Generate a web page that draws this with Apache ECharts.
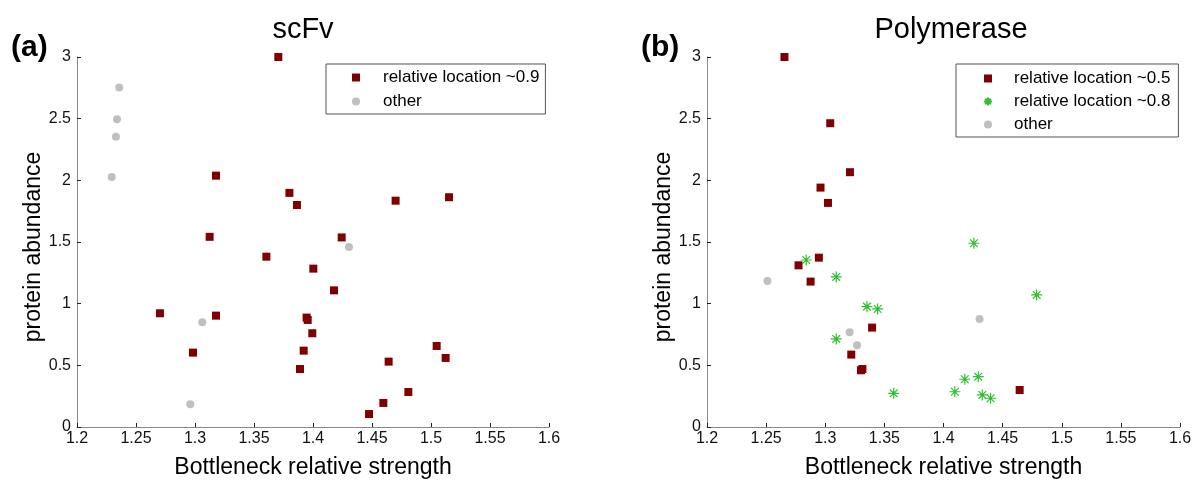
<!DOCTYPE html>
<html>
<head>
<meta charset="utf-8">
<script src="https://cdn.jsdelivr.net/npm/echarts@6/dist/echarts.min.js"></script>
<style>
html,body{margin:0;padding:0;background:#fff;}
#chart{width:1200px;height:485px;}
</style>
</head>
<body>
<div id="chart"></div>
<script>
// ---- data ----
const panelTitles = ['scFv', 'Polymerase'];
const panelLabels = ['(a)', '(b)'];
const xAxisName = 'Bottleneck relative strength';
const yAxisName = 'protein abundance';

// scFv panel
const scfvLoc09 = [
  [1.3706, 3.00], [1.3178, 2.038], [1.380, 1.898], [1.3864, 1.800], [1.3124, 1.542],
  [1.470, 1.835], [1.5153, 1.863], [1.4243, 1.537], [1.3605, 1.381], [1.2703, 0.922],
  [1.3178, 0.903], [1.2983, 0.603], [1.3946, 0.887], [1.3955, 0.868], [1.3921, 0.619],
  [1.389, 0.470], [1.4003, 1.284], [1.4178, 1.108], [1.3994, 0.760], [1.5048, 0.657],
  [1.5124, 0.560], [1.4641, 0.530], [1.4808, 0.284], [1.4596, 0.195], [1.4475, 0.105]
];
const scfvOther = [
  [1.2358, 2.752], [1.2339, 2.495], [1.233, 2.354], [1.2294, 2.028],
  [1.3062, 0.849], [1.296, 0.184], [1.4305, 1.460]
];

// Polymerase panel
const polyLoc05 = [
  [1.2655, 3.00], [1.3042, 2.463], [1.3209, 2.066], [1.296, 1.941], [1.3023, 1.817],
  [1.2946, 1.373], [1.2774, 1.311], [1.2876, 1.179], [1.3396, 0.806], [1.322, 0.587],
  [1.3302, 0.460], [1.3314, 0.470], [1.4644, 0.300]
];
const polyLoc08 = [
  [1.2839, 1.354], [1.3093, 1.217], [1.3353, 0.976], [1.3443, 0.957], [1.3093, 0.714],
  [1.3579, 0.273], [1.4257, 1.490], [1.4788, 1.071], [1.418, 0.387], [1.4294, 0.408],
  [1.4096, 0.286], [1.4328, 0.260], [1.4398, 0.233]
];
const polyOther = [
  [1.2511, 1.184], [1.3206, 0.768], [1.3269, 0.663], [1.4305, 0.876]
];

const seriesNames = {
  loc09: 'relative location ~0.9',
  loc05: 'relative location ~0.5',
  loc08: 'relative location ~0.8',
  other: 'other'
};

// ---- styling ----
const FONT = 'Liberation Sans, Arial, Helvetica, sans-serif';
const RED = '#7f0000';
const GRAY = '#c0c0c0';
const GREEN = '#2fbf2f';
const STAR = 'path://M5,0L5,10M0,5L10,5M1.5,1.5L8.5,8.5M1.5,8.5L8.5,1.5';

function xAxisOpt(gi) {
  return {
    gridIndex: gi, type: 'value', min: 1.2, max: 1.6, interval: 0.05,
    name: xAxisName, nameLocation: 'middle', nameGap: 29,
    nameTextStyle: { fontSize: 23, color: '#000', fontFamily: FONT },
    axisLine: { show: true, onZero: false, lineStyle: { color: '#888', width: 1 } },
    axisTick: { show: true, inside: true, length: 4, lineStyle: { color: '#222' } },
    axisLabel: { fontSize: 16, color: '#111', fontFamily: FONT, margin: 4 },
    splitLine: { show: false }
  };
}
function yAxisOpt(gi) {
  return {
    gridIndex: gi, type: 'value', min: 0, max: 3, interval: 0.5,
    name: yAxisName, nameLocation: 'middle', nameGap: 32,
    nameTextStyle: { fontSize: 23, color: '#000', fontFamily: FONT, padding: [0, 0, 0, -10] },
    axisLine: { show: true, onZero: false, lineStyle: { color: '#888', width: 1 } },
    axisTick: { show: true, inside: true, length: 4, lineStyle: { color: '#222' } },
    axisLabel: { fontSize: 16, color: '#111', fontFamily: FONT, margin: 6 },
    splitLine: { show: false }
  };
}

function sq(name, data, gi) {
  return { name, type: 'scatter', xAxisIndex: gi, yAxisIndex: gi, data, clip: false,
    symbol: 'rect', symbolSize: 8, itemStyle: { color: RED, opacity: 1 } };
}
function dot(name, data, gi) {
  return { name, type: 'scatter', xAxisIndex: gi, yAxisIndex: gi, data, clip: false,
    symbol: 'circle', symbolSize: 8, itemStyle: { color: GRAY, opacity: 1 } };
}
function star(name, data, gi) {
  return { name, type: 'scatter', xAxisIndex: gi, yAxisIndex: gi, data, clip: false,
    symbol: STAR, symbolSize: 11,
    itemStyle: { color: 'rgba(0,0,0,0)', borderColor: GREEN, borderWidth: 1.2, opacity: 1 } };
}

const chart = echarts.init(document.getElementById('chart'), null, { renderer: 'canvas' });
chart.setOption({
  backgroundColor: '#fff',
  animation: false,
  title: [
    { text: panelTitles[0], left: 298, top: 10, textAlign: 'center',
      textStyle: { fontSize: 29, fontWeight: 'normal', color: '#000', fontFamily: FONT } },
    { text: panelTitles[1], left: 946, top: 10, textAlign: 'center',
      textStyle: { fontSize: 29, fontWeight: 'normal', color: '#000', fontFamily: FONT } },
    { text: panelLabels[0], left: 6, top: 28,
      textStyle: { fontSize: 30, fontWeight: 'bold', color: '#000', fontFamily: FONT } },
    { text: panelLabels[1], left: 636, top: 28,
      textStyle: { fontSize: 30, fontWeight: 'bold', color: '#000', fontFamily: FONT } }
  ],
  grid: [
    { left: 77, top: 57, width: 472, height: 370 },
    { left: 707, top: 57, width: 473, height: 370 }
  ],
  xAxis: [xAxisOpt(0), xAxisOpt(1)],
  yAxis: [yAxisOpt(0), yAxisOpt(1)],
  legend: [
    { orient: 'vertical', left: 326, top: 64,
      data: [{ name: seriesNames.loc09 }, { name: seriesNames.other }],
      borderColor: '#555', borderWidth: 1, padding: [5, 6, 4, 26], itemGap: 7,
      itemWidth: 8, itemHeight: 8, selectedMode: false,
      textStyle: { fontSize: 17, color: '#000', fontFamily: FONT, padding: [0, 0, 0, 18] } },
    { orient: 'vertical', left: 956, top: 64,
      data: [{ name: seriesNames.loc05 }, { name: seriesNames.loc08 }, { name: seriesNames.other }],
      borderColor: '#555', borderWidth: 1, padding: [6, 8, 4, 27], itemGap: 6,
      itemWidth: 8, itemHeight: 8, selectedMode: false,
      textStyle: { fontSize: 17, color: '#000', fontFamily: FONT, padding: [0, 0, 0, 17] } }
  ],
  series: [
    sq(seriesNames.loc09, scfvLoc09, 0),
    dot(seriesNames.other, scfvOther, 0),
    sq(seriesNames.loc05, polyLoc05, 1),
    star(seriesNames.loc08, polyLoc08, 1),
    dot(seriesNames.other, polyOther, 1)
  ]
});
</script>
</body>
</html>
